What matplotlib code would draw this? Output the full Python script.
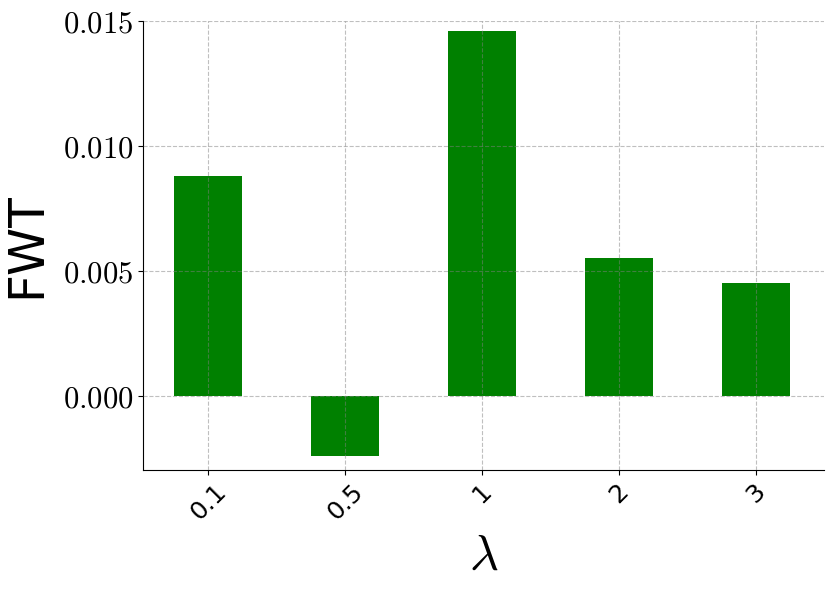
import matplotlib
matplotlib.use("Agg")
import matplotlib.pyplot as plt
import matplotlib.ticker as mticker

# data
lambdas = ["0.1", "0.5", "1", "2", "3"]
fwt = [0.0088, -0.0024, 0.0146, 0.0055, 0.0045]
yticks = [0.000, 0.005, 0.010, 0.015]

plt.rcParams["mathtext.fontset"] = "cm"

fig = plt.figure(figsize=(8.31, 5.96), dpi=100)
ax = fig.add_axes([0.172, 0.2114, 0.820, 0.7534])

x = list(range(len(lambdas)))
ax.bar(x, fwt, width=0.5, color="green", zorder=1)

ax.set_xlim(-0.475, len(lambdas) - 0.5)
ax.set_ylim(-0.00296, 0.015)
ax.set_xticks(x)
ax.set_xticklabels(lambdas, rotation=45, fontsize=18)
ax.set_yticks(yticks)
ax.yaxis.set_major_formatter(mticker.FuncFormatter(lambda v, p: f"${v:.3f}$"))
ax.tick_params(axis="y", labelsize=22)

ax.grid(True, ls="--", color="gray", alpha=0.5, lw=0.8, zorder=3)
ax.set_axisbelow(False)
for s in ("top", "right"):
    ax.spines[s].set_visible(False)

ax.set_ylabel("FWT", fontsize=35, labelpad=9)
ax.set_xlabel(r"$\lambda$", fontsize=36)

fig.savefig("out.png", dpi=100)
